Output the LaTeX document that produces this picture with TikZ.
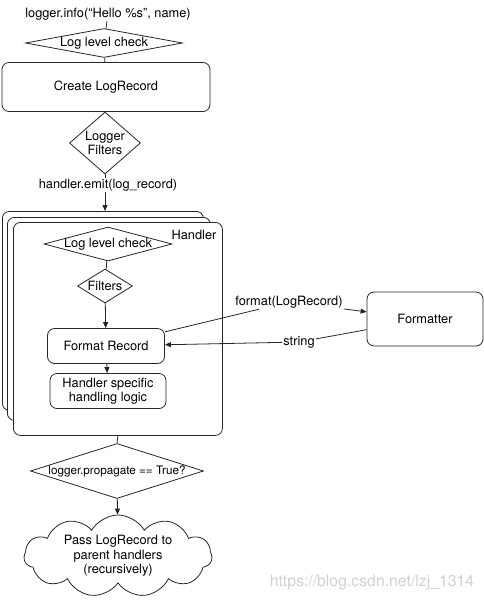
\documentclass[tikz,border=0pt]{standalone}
\usepackage{fontspec}
\setmainfont{TeX Gyre Heros}
\usetikzlibrary{shapes.geometric,shapes.symbols,arrows.meta}
\begin{document}
\begin{tikzpicture}[x=1pt,y=-1pt, font=\fontsize{12.8}{14.5}\selectfont,
 line/.style={draw=black!85, line width=0.8pt},
 arr/.style={line, -{Triangle[length=6pt,width=5pt]}},
 dia/.style={diamond, line, inner sep=0pt, fill=white},
 rbox/.style={rectangle, rounded corners=7pt, line, fill=white, inner sep=0pt, align=center},
 lbl/.style={inner sep=1pt}]
\useasboundingbox (0,0) rectangle (484,600);

\node[lbl] (title) at (108,14) {logger.info(“Hello \%s", name)};
\node[dia, minimum width=157, minimum height=29, aspect=5.5, inner xsep=-4pt] (llc) at (104,43) {Log level check};
\node[rbox, minimum width=208, minimum height=49] (clr) at (106,87) {Create LogRecord};
\node[dia, minimum width=71, minimum height=62, aspect=1.1, inner sep=-3pt, align=center] (lf) at (105,143) {Logger\\Filters};
\node[lbl] (emit) at (108,185) {handler.emit(log\_record)};

\draw[line] (title) -- (llc);
\draw[line] (llc) -- (clr);
\draw[line] (clr) -- (lf);
\draw[line] (lf) -- (lf |- emit.north);

% handler stack
\node[rbox, minimum width=201, minimum height=199, anchor=north west] (s1) at (2,211) {};
\node[rbox, minimum width=203, minimum height=203, anchor=north west] (s2) at (7,217) {};
\node[rbox, minimum width=209, minimum height=213, anchor=north west] (hd) at (13,222) {};
\node[lbl] (hlab) at (194,235) {Handler};
\draw[arr] (emit.south -| lf) -- (lf |- s1.north);

\node[dia, minimum width=128, minimum height=34, aspect=4, inner xsep=-7pt] (llc2) at (108,244) {Log level check};
\node[dia, minimum width=55, minimum height=34, aspect=1.7, inner xsep=-2pt] (filt) at (105,286) {Filters};
\node[rbox, minimum width=117, minimum height=35] (fr) at (106,346) {Format Record};
\node[rbox, minimum width=116, minimum height=35] (hs) at (108,391) {Handler specific\\handling logic};
\draw[line] (llc2) -- (filt);
\draw[arr] (filt) -- (fr);
\draw[arr] (fr) -- (hs);

% formatter
\node[rbox, minimum width=116, minimum height=54] (fmt) at (425,319) {Formatter};
\node[lbl] (l1) at (289,302) {format(LogRecord)};
\node[lbl] (l2) at (299,342) {string};
\draw[line] (fr) -- (l1);
\draw[arr] (l1) -- (fmt.173);
\draw[line] (fmt) -- (l2);
\draw[arr] (l2) -- (fr);

% propagate
\node[dia, minimum width=173, minimum height=55, aspect=3.1, inner xsep=-9pt, font=\fontsize{11.7}{13}\selectfont] (prop) at (117,471) {logger.propagate == True?};
\draw[line] (hd.south) -- (prop.north);
\node[cloud, cloud puffs=11, cloud puff arc=120, aspect=2.3, line, inner sep=-5pt, minimum width=188, minimum height=82, align=center] (cl) at (118,556) {Pass LogRecord to\\parent handlers\\(recursively)};
\draw[arr] (prop) -- (cl);

\node[text=black!18, font=\fontsize{15.8}{17}\selectfont] (wm) at (372,582) {https://blog.csdn.net/lzj\_1314};
\end{tikzpicture}
\end{document}
